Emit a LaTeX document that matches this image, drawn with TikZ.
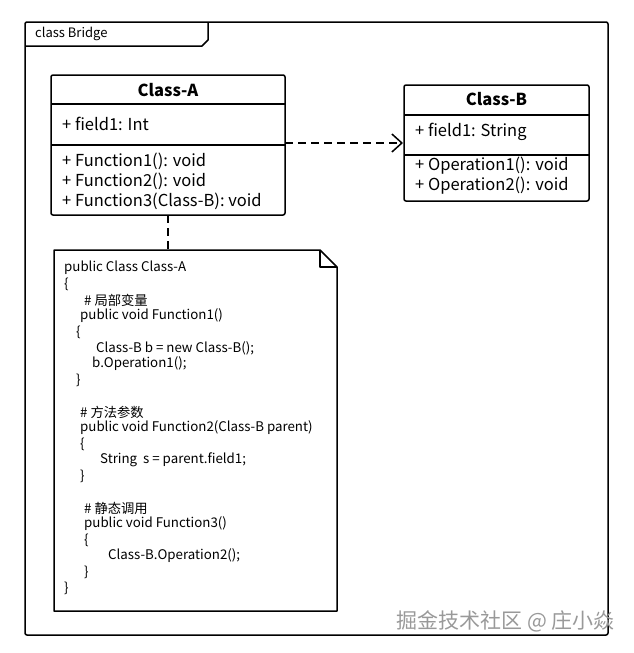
\documentclass[tikz,border=0pt]{standalone}
\usepackage{fontspec}
\setmainfont{Noto Sans CJK SC}
\usepackage{tikz}
\usetikzlibrary{arrows.meta}

\begin{document}
\begin{tikzpicture}[x=1pt,y=-1pt,line join=round,
  umlbox/.style={draw,line width=1.5pt,rounded corners=2pt},
  rule/.style={line width=1.5pt},
  depend/.style={line width=1.5pt,dash pattern=on 8pt off 5pt},
  title/.style={font=\fontsize{16.5}{18}\selectfont\bfseries,inner sep=0pt},
  member/.style={anchor=west,font=\fontsize{16.5}{18}\selectfont,inner sep=0pt},
  code/.style={anchor=west,font=\fontsize{13.3}{15}\selectfont,inner sep=0pt}]
\useasboundingbox (0,0) rectangle (634,653);
% frame
\draw[umlbox] (25,22) rectangle (608,635);
\draw[rule] (25,46) -- (202,46) -- (208,40) -- (208,22);
\node[code,font=\fontsize{13}{14}\selectfont] (frame-title) at (35,34) {class Bridge};
% Class-A
\draw[umlbox,fill=white] (51,75) rectangle (285,215);
\draw[rule] (51,104) -- (285,104);
\draw[rule] (51,145) -- (285,145);
\node[title] (a-name) at (168,90) {Class-A};
\node[member] (a-field) at (62,124) {+ field1: Int};
\node[member] (a-op1) at (62,161) {+ Function1(): void};
\node[member] (a-op2) at (62,181) {+ Function2(): void};
\node[member] (a-op3) at (62,201) {+ Function3(Class-B): void};
\coordinate (a-right) at (285,143);
\coordinate (a-bottom) at (168,215);
% Class-B
\draw[umlbox,fill=white] (404,85) rectangle (589,201);
\draw[rule] (404,115) -- (589,115);
\draw[rule] (404,155) -- (589,155);
\node[title] (b-name) at (496.5,99) {Class-B};
\node[member] (b-field) at (415,132) {+ field1: String};
\node[member] (b-op1) at (415,166) {+ Operation1(): void};
\node[member] (b-op2) at (415,186) {+ Operation2(): void};
\coordinate (b-left) at (403,143);
% dependency
\draw[depend,-{Straight Barb[length=10pt,width=18pt,line width=1.5pt]}] (a-right) -- (b-left);
% note
\draw[rule] (54,250) -- (320,250) -- (337,267) -- (337,611) -- (54,611) -- cycle;
\draw[rule] (320,250) -- (320,267) -- (337,267);
\coordinate (note-top) at (168,250);
\draw[depend] (a-bottom) -- (note-top);
\foreach \x/\y/\txt [count=\i] in {
  64/268/{public Class Class-A},
  64/284/{\{},
  84/300/{\# 局部变量},
  80/316/{public void Function1()},
  76/332/{\{},
  96/348/{Class-B b = new Class-B();},
  92/364/{b.Operation1();},
  76/380/{\}},
  80/412/{\# 方法参数},
  80/428/{public void Function2(Class-B parent)},
  80/444/{\{},
  100/460/{String\ \ s = parent.field1;},
  80/476/{\}},
  84/508/{\# 静态调用},
  84/524/{public void Function3()},
  84/540/{\{},
  108/556/{Class-B.Operation2();},
  84/572/{\}},
  64/588/{\}}}
  \node[code] (line\i) at (\x,\y) {\txt};
% watermark
\node[anchor=east,inner sep=0pt,text=gray!80,font=\fontsize{21}{24}\selectfont] (mark) at (615,621) {掘金技术社区 @ 庄小焱};
\end{tikzpicture}
\end{document}
